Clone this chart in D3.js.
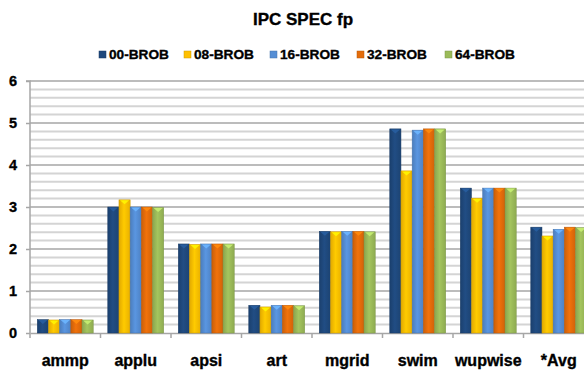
<!DOCTYPE html>
<html>
<head>
<meta charset="utf-8">
<script src="https://cdn.jsdelivr.net/npm/d3@7"></script>
<style>
  html, body { margin: 0; padding: 0; background: #fff; }
  svg { display: block; }
  text { font-family: "Liberation Sans", Arial, sans-serif; font-weight: bold; fill: #000; stroke: #000; stroke-width: 0.35px; }
</style>
</head>
<body>
<svg id="chart" width="584" height="377"></svg>
<script>
const categories = ["ammp", "applu", "apsi", "art", "mgrid", "swim", "wupwise", "*Avg"];
const seriesNames = ["00-BROB", "08-BROB", "16-BROB", "32-BROB", "64-BROB"];
const s00 = [0.32, 3.00, 2.12, 0.66, 2.42, 4.86, 3.45, 2.52];
const s08 = [0.31, 3.17, 2.11, 0.62, 2.41, 3.86, 3.21, 2.31];
const s16 = [0.32, 3.00, 2.12, 0.66, 2.42, 4.83, 3.45, 2.47];
const s32 = [0.32, 3.00, 2.12, 0.66, 2.42, 4.86, 3.45, 2.52];
const s64 = [0.31, 2.99, 2.12, 0.65, 2.41, 4.86, 3.45, 2.51];
const seriesValues = [s00, s08, s16, s32, s64];
const colors = ["#1f497d", "#ffc000", "#558ed5", "#e46c0a", "#9bbb59"];
const yTicks = [0, 1, 2, 3, 4, 5, 6];
const title = "IPC SPEC fp";

(function () {
const svg = d3.select("#chart");
const W = 584, H = 377;
const mLeft = 30, mRight = 594, mTop = 81, mBottom = 333;

const x = d3.scaleBand().domain(categories).range([mLeft, mRight]).padding(0);
const xs = d3.scaleBand().domain(seriesNames).range([0, x.bandwidth()]).paddingInner(0).paddingOuter(0.65);
const y = d3.scaleLinear().domain([0, 6]).range([mBottom, mTop]);

// gradients
const defs = svg.append("defs");
colors.forEach((c, i) => {
  const g = defs.append("linearGradient").attr("id", "g" + i).attr("x1", "0").attr("x2", "1").attr("y1", "0").attr("y2", "0");
  const base = d3.color(c);
  g.append("stop").attr("offset", "0%").attr("stop-color", base.darker(0.35));
  g.append("stop").attr("offset", "45%").attr("stop-color", base.brighter(0.15));
  g.append("stop").attr("offset", "100%").attr("stop-color", base.darker(0.25));
});

// minor gridlines
const minor = d3.range(0, 6.001, 0.2).filter(v => Math.abs(v - Math.round(v)) > 0.01);
svg.append("g").selectAll("line").data(minor).join("line")
  .attr("x1", mLeft).attr("x2", W)
  .attr("y1", d => y(d)).attr("y2", d => y(d))
  .attr("stroke", "#d4d4d4").attr("stroke-width", 2);
svg.append("g").selectAll("line").data(yTicks.filter(d => d > 0)).join("line")
  .attr("x1", mLeft).attr("x2", W)
  .attr("y1", d => y(d)).attr("y2", d => y(d))
  .attr("stroke", "#a6a6a6").attr("stroke-width", 1.5);

// y axis
const yAxis = d3.axisLeft(y).tickValues(yTicks).tickSize(4).tickPadding(9).tickFormat(d3.format("d"));
const gy = svg.append("g").attr("transform", `translate(${mLeft},0)`).call(yAxis);
gy.select(".domain").attr("stroke", "#a6a6a6").attr("stroke-width", 1.5).attr("d", `M-4,${mTop}H0V${mBottom + 5}`);
gy.selectAll(".tick line").attr("stroke", "#a6a6a6").attr("stroke-width", 1.5);
gy.selectAll(".tick text").attr("font-size", 14.5).attr("font-family", "'Liberation Sans', Arial, sans-serif").attr("font-weight", "bold").attr("fill", "#000");

// x axis
const xAxis = d3.axisBottom(x).tickSize(0).tickPadding(22);
const gx = svg.append("g").attr("transform", `translate(0,${mBottom})`).call(xAxis);
gx.select(".domain").attr("stroke", "#a6a6a6").attr("stroke-width", 1.5);
gx.selectAll(".tick text").attr("font-size", 16).attr("font-family", "'Liberation Sans', Arial, sans-serif").attr("font-weight", "bold").attr("fill", "#000").attr("dy", "0.71em");
// category boundary ticks
svg.append("g").selectAll("line").data(categories.slice(1)).join("line")
  .attr("x1", d => x(d)).attr("x2", d => x(d))
  .attr("y1", mBottom).attr("y2", mBottom + 5)
  .attr("stroke", "#a6a6a6").attr("stroke-width", 1.5);

// bars
const barsG = svg.append("g");
seriesNames.forEach((s, si) => {
  const vals = seriesValues[si];
  const g = barsG.append("g");
  g.selectAll("rect").data(categories).join("rect")
    .attr("x", (d) => x(d) + xs(s))
    .attr("y", (d, i) => y(vals[i]))
    .attr("width", xs.bandwidth())
    .attr("height", (d, i) => y(0) - y(vals[i]))
    .attr("fill", `url(#g${si})`)
    .attr("stroke", d3.color(colors[si]).darker(0.6))
    .attr("stroke-width", 0.5);
  // top cap highlight
  g.selectAll("path").data(categories).join("path")
    .attr("d", (d, i) => {
      const x0 = x(d) + xs(s) + 1, w = xs.bandwidth() - 2, yt = y(vals[i]) + 0.5;
      return `M${x0},${yt}L${x0 + w},${yt}L${x0 + w / 2},${yt + 4}Z`;
    })
    .attr("fill", d3.color(colors[si]).brighter(0.7))
    .attr("opacity", 0.9);
});

// title
svg.append("text").attr("x", 303).attr("y", 25).attr("text-anchor", "middle")
  .attr("font-size", 17).text(title);

// legend
const legendX = [99, 184, 270, 357, 445];
const lg = svg.append("g").selectAll("g").data(seriesNames).join("g")
  .attr("transform", (d, i) => `translate(${legendX[i]},0)`);
lg.append("rect").attr("x", 0).attr("y", 51).attr("width", 7).attr("height", 7)
  .attr("fill", (d, i) => colors[i]).attr("stroke", (d, i) => d3.color(colors[i]).darker(0.6)).attr("stroke-width", 0.5);
lg.append("text").attr("x", 10).attr("y", 58.5).attr("font-size", 13.5)
  .attr("textLength", 60).attr("lengthAdjust", "spacingAndGlyphs").text(d => d);
})();
</script>
</body>
</html>
